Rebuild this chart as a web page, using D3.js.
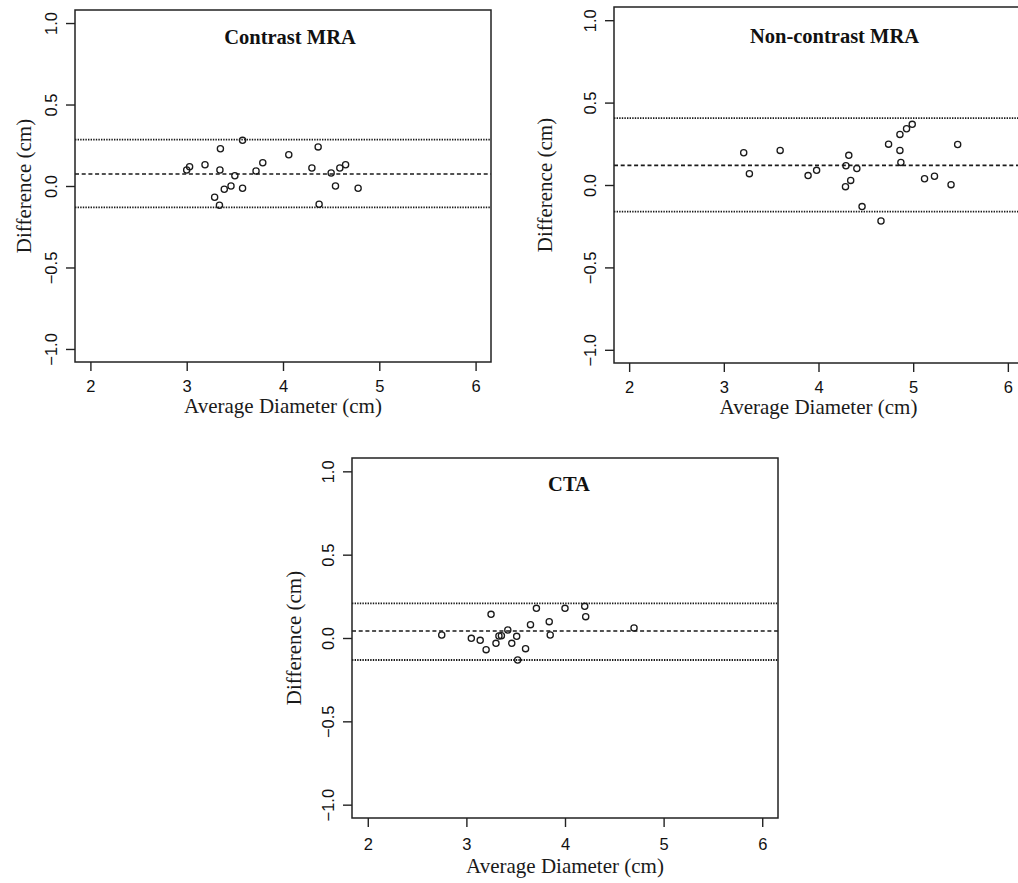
<!DOCTYPE html>
<html>
<head>
<meta charset="utf-8">
<title>Bland-Altman plots</title>
<script src="https://d3js.org/d3.v7.min.js" charset="utf-8"></script>
<style>
  html, body { margin: 0; padding: 0; background: #fff; }
  svg { display: block; }
  .tick line { stroke: #222; stroke-width: 1.4px; }
  .axis-title { font: 21px "Liberation Serif", "Times New Roman", serif; fill: #1a1a1a; }
  .panel-title { font: bold 20.5px "Liberation Serif", "Times New Roman", serif; fill: #111; }
  .box { fill: none; stroke: #222; stroke-width: 1.5px; }
  .pt { fill: none; stroke: #1a1a1a; stroke-width: 1.3px; }
</style>
</head>
<body>
<script>
// values
var xTicks = [2, 3, 4, 5, 6];
var yTicks = [-1.0, -0.5, 0.0, 0.5, 1.0];
var xDomain = [1.84, 6.16];
var yDomain = [-1.08, 1.08];

var titles = ["Contrast MRA", "Non-contrast MRA", "CTA"];
var xLabel = "Average Diameter (cm)";
var yLabel = "Difference (cm)";

// Contrast MRA
var cmraAvg  = [3.00, 3.03, 3.19, 3.35, 3.345, 3.29, 3.34, 3.39, 3.46, 3.50, 3.58, 3.58,
                3.72, 3.79, 4.06, 4.30, 4.365, 4.375, 4.50, 4.545, 4.59, 4.65, 4.78];
var cmraDiff = [0.098, 0.118, 0.130, 0.229, 0.098, -0.069, -0.118, -0.020, 0.000, 0.063, 0.280, -0.014,
                0.092, 0.143, 0.192, 0.110, 0.240, -0.112, 0.080, 0.000, 0.110, 0.130, -0.014];
var cmraLimits = [0.074, 0.285, -0.131];   // mean, upper, lower

// Non-contrast MRA
var ncmraAvg  = [3.21, 3.27, 3.595, 3.89, 3.98, 4.29, 4.32, 4.285, 4.34, 4.405, 4.46,
                 4.66, 4.74, 4.86, 4.93, 4.99, 4.86, 4.87, 5.12, 5.225, 5.40, 5.47];
var ncmraDiff = [0.196, 0.069, 0.210, 0.057, 0.089, 0.117, 0.180, -0.010, 0.028, 0.100, -0.131,
                 -0.218, 0.248, 0.307, 0.341, 0.368, 0.210, 0.137, 0.038, 0.053, 0.002, 0.246];
var ncmraLimits = [0.119, 0.406, -0.162];

// CTA
var ctaAvg  = [2.75, 3.05, 3.14, 3.20, 3.25, 3.30, 3.33, 3.355, 3.42, 3.46, 3.51,
               3.52, 3.60, 3.65, 3.71, 3.84, 3.85, 4.00, 4.20, 4.21, 4.70];
var ctaDiff = [0.018, -0.002, -0.014, -0.070, 0.142, -0.032, 0.012, 0.014, 0.048, -0.032, 0.010,
               -0.132, -0.064, 0.080, 0.178, 0.098, 0.018, 0.178, 0.190, 0.128, 0.060];
var ctaLimits = [0.042, 0.208, -0.132];

// panel layout (pixels)
var panels = [
  {title: titles[0], avg: cmraAvg,  diff: cmraDiff,  lim: cmraLimits,
   x: 75,  y: 10,  w: 416, h: 352, titleDx: 7,  titleDy: 34, yTitleDx: -44, xTickDy: 30, xTitleDy: 51},
  {title: titles[1], avg: ncmraAvg, diff: ncmraDiff, lim: ncmraLimits,
   x: 614, y: 7,   w: 409, h: 356, titleDx: 16, titleDy: 36, yTitleDx: -62, xTickDy: 30, xTitleDy: 51},
  {title: titles[2], avg: ctaAvg,   diff: ctaDiff,   lim: ctaLimits,
   x: 352, y: 458, w: 426, h: 360, titleDx: 4,  titleDy: 33, yTitleDx: -51, xTickDy: 32, xTitleDy: 55}
];

var tickFont = "'Liberation Sans', Arial, sans-serif";

var svg = d3.select("body").append("svg")
  .attr("width", 1018)
  .attr("height", 883);

svg.append("rect").attr("width", 1018).attr("height", 883).attr("fill", "#fff");

panels.forEach(function(p) {
  var g = svg.append("g").attr("transform", "translate(" + p.x + "," + p.y + ")");

  var x = d3.scaleLinear().domain(xDomain).range([0, p.w]);
  var y = d3.scaleLinear().domain(yDomain).range([p.h, 0]);

  // x axis
  var xa = g.append("g")
    .attr("transform", "translate(0," + p.h + ")")
    .call(d3.axisBottom(x).tickValues(xTicks).tickSize(9).tickFormat(d3.format("d")));
  xa.select(".domain").remove();
  xa.selectAll(".tick text")
    .attr("dy", 0).attr("y", p.xTickDy)
    .style("font-family", tickFont)
    .style("font-size", "16.5px")
    .style("fill", "#111");

  // y axis, labels rotated like R's default
  var ya = g.append("g")
    .call(d3.axisLeft(y).tickValues(yTicks).tickSize(9).tickFormat(d3.format(".1f")));
  ya.select(".domain").remove();
  ya.selectAll(".tick text")
    .attr("transform", "rotate(-90)")
    .attr("x", 0)
    .attr("y", -18)
    .attr("dy", 0)
    .attr("text-anchor", "middle")
    .style("font-family", tickFont)
    .style("font-size", "16.5px")
    .style("fill", "#111");

  // mean and limits of agreement
  var dash = ["4,2.7", "1.4,1.2", "1.4,1.2"];
  var widths = [1.6, 1.8, 1.8];
  p.lim.forEach(function(v, i) {
    g.append("line")
      .attr("x1", 0).attr("x2", p.w)
      .attr("y1", y(v)).attr("y2", y(v))
      .attr("stroke", "#1a1a1a")
      .attr("stroke-width", widths[i])
      .attr("stroke-dasharray", dash[i]);
  });

  // points
  g.selectAll("circle.pt")
    .data(d3.zip(p.avg, p.diff))
    .enter().append("circle")
    .attr("class", "pt")
    .attr("cx", function(d) { return x(d[0]); })
    .attr("cy", function(d) { return y(d[1]); })
    .attr("r", 3.1);

  // box
  g.append("rect").attr("class", "box")
    .attr("width", p.w).attr("height", p.h);

  // titles
  g.append("text").attr("class", "panel-title")
    .attr("x", p.w / 2 + p.titleDx).attr("y", p.titleDy)
    .attr("text-anchor", "middle")
    .text(p.title);

  g.append("text").attr("class", "axis-title")
    .attr("x", p.w / 2).attr("y", p.h + p.xTitleDy)
    .attr("text-anchor", "middle")
    .text(xLabel);

  g.append("text").attr("class", "axis-title")
    .attr("transform", "translate(" + p.yTitleDx + "," + (p.h / 2) + ") rotate(-90)")
    .attr("text-anchor", "middle")
    .text(yLabel);
});
</script>
</body>
</html>
